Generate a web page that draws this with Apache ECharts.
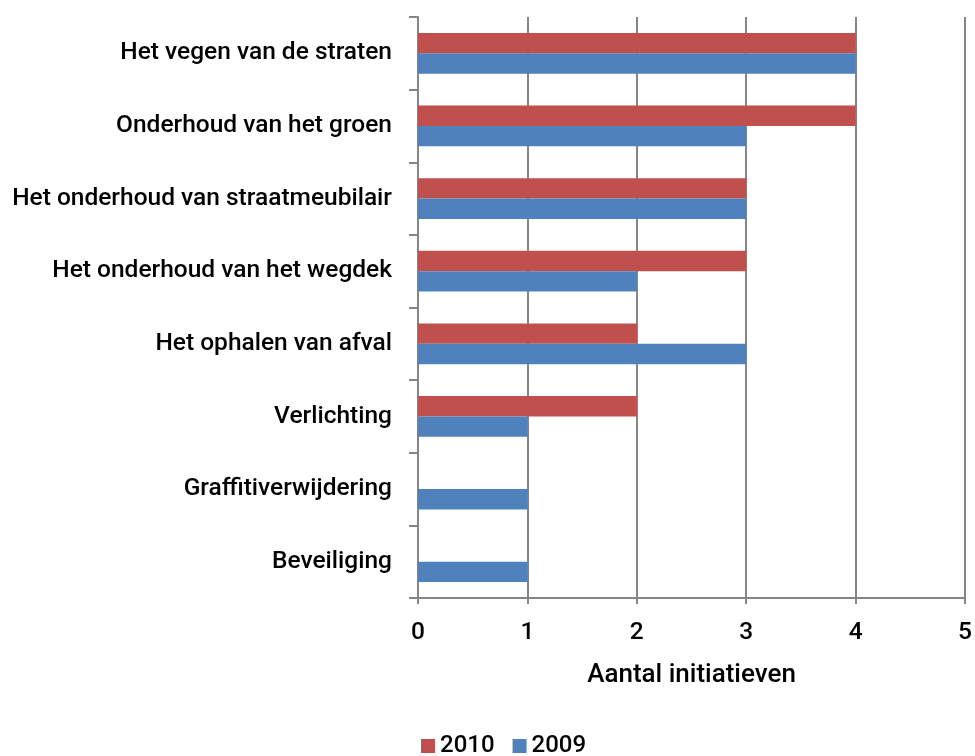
<!DOCTYPE html>
<html>
<head>
<meta charset="utf-8">
<script src="https://cdn.jsdelivr.net/npm/echarts@6/dist/echarts.min.js"></script>
<style>
  html, body { margin: 0; padding: 0; background: #fff; }
  #chart { width: 975px; height: 756px; }
</style>
</head>
<body>
<div id="chart"></div>
<script>
// categories bottom to top (ECharts category axis starts at bottom)
const categories = [
  'Beveiliging',
  'Graffitiverwijdering',
  'Verlichting',
  'Het ophalen van afval',
  'Het onderhoud van het wegdek',
  'Het onderhoud van straatmeubilair',
  'Onderhoud van het groen',
  'Het vegen van de straten'
]
const values2010 = [0, 0, 2, 2, 3, 3, 4, 4]
const values2009 = [1, 1, 1, 3, 2, 3, 3, 4]
const xTicks = [0, 1, 2, 3, 4, 5]

const chart = echarts.init(document.getElementById('chart'))

const font = 'Roboto, sans-serif'

const option = {
  animation: false,
  grid: {
    left: 418,
    right: 7,
    top: 17,
    bottom: 158
  },
  legend: {
    top: 729,
    left: 416,
    itemWidth: 14,
    itemHeight: 14,
    itemGap: 18,
    icon: 'rect',
    textStyle: { fontFamily: font, fontSize: 24, fontWeight: 500, color: '#000' },
    data: ['2010', '2009']
  },
  xAxis: {
    type: 'value',
    min: xTicks[0],
    max: xTicks[xTicks.length - 1],
    interval: 1,
    name: 'Aantal initiatieven',
    nameLocation: 'middle',
    nameGap: 64,
    nameTextStyle: { fontFamily: font, fontSize: 26, fontWeight: 500, color: '#000' },
    axisLine: { show: true, lineStyle: { color: '#868686', width: 2 } },
    axisTick: { show: true, length: 6, lineStyle: { color: '#868686', width: 2 } },
    axisLabel: { fontFamily: font, fontSize: 24.5, fontWeight: 500, color: '#000', margin: 22 },
    splitLine: { show: true, lineStyle: { color: '#868686', width: 2 } }
  },
  yAxis: {
    type: 'category',
    data: categories,
    axisLine: { show: true, lineStyle: { color: '#868686', width: 2 } },
    axisTick: { show: true, length: 9, lineStyle: { color: '#868686', width: 2 } },
    axisLabel: { fontFamily: font, fontSize: 24.5, fontWeight: 500, color: '#000', margin: 26 }
  },
  series: [
    {
      name: '2010',
      type: 'bar',
      data: values2010,
      barGap: '0%',
      barCategoryGap: '44%',
      itemStyle: { color: '#C0504D' }
    },
    {
      name: '2009',
      type: 'bar',
      data: values2009,
      itemStyle: { color: '#4F81BD' }
    }
  ]
}

chart.setOption(option)
</script>
</body>
</html>
